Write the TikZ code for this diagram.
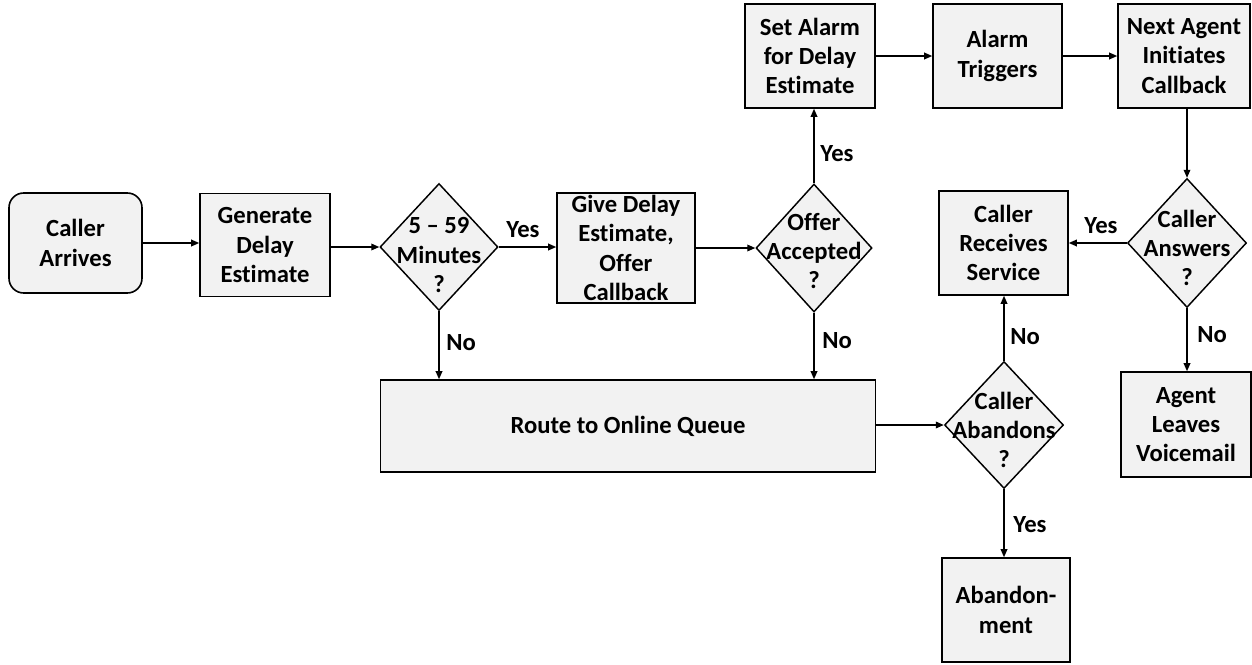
\documentclass[tikz,border=0pt]{standalone}
\usepackage{fontspec}
\setmainfont{Carlito}[Ligatures=NoCommon]
\usetikzlibrary{shapes.geometric,arrows.meta}
\definecolor{boxfill}{HTML}{F2F2F2}
\tikzset{
  every node/.style={font=\fontsize{18.5}{22}\selectfont\bfseries},
  box/.style 2 args={draw, fill=boxfill, line width=1.2pt, align=center,
    inner sep=0pt, minimum width=#1*0.75pt, minimum height=#2*0.75pt},
  dia/.style 2 args={draw, fill=boxfill, line width=1.1pt, diamond, inner sep=0pt,
    minimum width=#1*0.75pt, minimum height=#2*0.75pt},
  txt/.style={align=center, inner sep=0pt},
  lbl/.style={inner sep=0pt},
  conn/.style={line width=1pt, -{Triangle[length=6pt,width=5pt]}}
}
\begin{document}
\begin{tikzpicture}[x=0.75pt, y=-0.75pt]
\useasboundingbox (0,0) rectangle (1252,664);
% nodes
\node[box={133}{100}, rounded corners=11pt] (arr) at (75.5,243) {Caller\\Arrives};
\node[box={130}{103}] (gen) at (265,245) {Generate\\Delay\\Estimate};
\node[dia={118}{127}] (d1) at (439,247) {};
\node[txt] (d1t) at (439,255) {5 -- 59\\Minutes\\?};
\node[box={138}{110}] (give) at (626,248) {Give Delay\\Estimate,\\Offer\\Callback};
\node[dia={116}{128}] (offer) at (814,248) {};
\node[txt] (offert) at (814,251) {Offer\\Accepted\\?};
\node[box={130}{104}] (alarm) at (810,56) {Set Alarm\\for Delay\\Estimate};
\node[box={129}{104}] (trig) at (997.5,56) {Alarm\\Triggers};
\node[box={132}{104}] (next) at (1184,56) {Next Agent\\Initiates\\Callback};
\node[dia={119}{129}] (ans) at (1187,243) {};
\node[txt] (anst) at (1187,248) {Caller\\Answers\\?};
\node[box={129}{104}] (recv) at (1003.5,243) {Caller\\Receives\\Service};
\node[box={130}{105}] (leave) at (1186,424.5) {Agent\\Leaves\\Voicemail};
\node[box={495}{92}] (route) at (628,426) {Route to Online Queue};
\node[dia={119}{127}] (aband) at (1004,425) {};
\node[txt] (abandt) at (1004,430) {Caller\\Abandons\\?};
\node[box={128}{104}] (abm) at (1006,610) {Abandon-\\ment};
% labels
\node[lbl] (l1) at (523,230) {Yes};
\node[lbl] (l2) at (837,154) {Yes};
\node[lbl] (l3) at (461,343) {No};
\node[lbl] (l4) at (837,341) {No};
\node[lbl] (l5) at (1101,226) {Yes};
\node[lbl] (l6) at (1212,335) {No};
\node[lbl] (l7) at (1025,337) {No};
\node[lbl] (l8) at (1030,525) {Yes};
% connectors
\draw[conn] (arr.east) -- (arr.east -| gen.west);
\draw[conn] (gen.east |- d1.west) -- (d1.west);
\draw[conn] (d1.east) -- (d1.east -| give.west);
\draw[conn] (give.east |- offer.west) -- (offer.west);
\draw[conn] (offer.north) -- (offer.north |- alarm.south);
\draw[conn] (alarm) -- (trig);
\draw[conn] (trig) -- (next);
\draw[conn] (ans.north |- next.south) -- (ans.north);
\draw[conn] (ans.west) -- (ans.west -| recv.east);
\draw[conn] (ans.south) -- (ans.south |- leave.north);
\draw[conn] (d1.south) -- (d1.south |- route.north);
\draw[conn] (offer.south) -- (offer.south |- route.north);
\draw[conn] (route.east |- aband.west) -- (aband.west);
\draw[conn] (aband.north) -- (aband.north |- recv.south);
\draw[conn] (aband.south) -- (aband.south |- abm.north);
\end{tikzpicture}
\end{document}
